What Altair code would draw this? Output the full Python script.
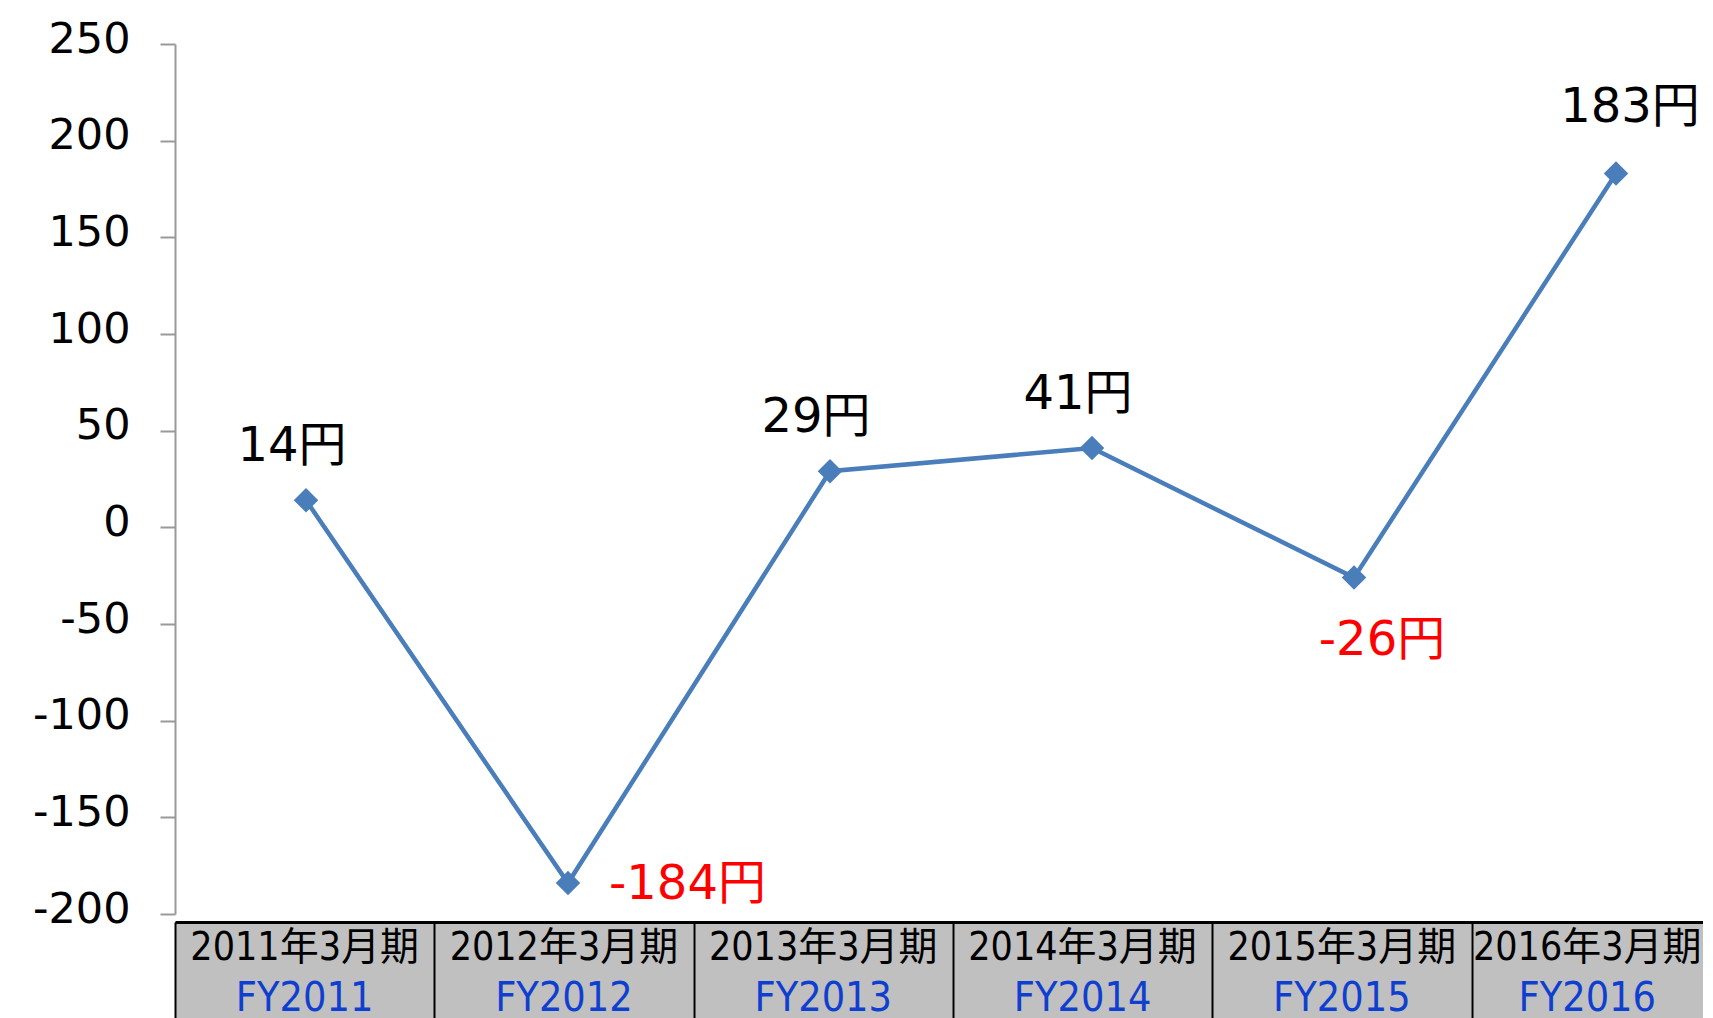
import altair as alt
import pandas as pd

# ---- data ----
periods_ja = ["2011年3月期", "2012年3月期", "2013年3月期", "2014年3月期", "2015年3月期", "2016年3月期"]
periods_en = ["FY2011", "FY2012", "FY2013", "FY2014", "FY2015", "FY2016"]
eps_values = [14, -184, 29, 41, -26, 183]
y_ticks = [-200, -150, -100, -50, 0, 50, 100, 150, 200, 250]

# label placement groups
above = ["FY2011", "FY2013", "FY2014"]
right_side = ["FY2012"]
below = ["FY2015"]
above_right = ["FY2016"]

# ---- layout constants ----
PLOT_W = 1528
TOP_H = 870
TAB_H = 100
X_TOP_MAX = PLOT_W / 262.0
X_TAB_MAX = PLOT_W / 259.3

LINE_COLOR = "#4a7ebb"
AXIS_GRAY = "#999999"
LABEL_FONT = "DejaVu Sans, Noto Sans CJK JP"
TABLE_FONT = "DejaVu Sans Condensed, Liberation Sans Narrow, Noto Sans CJK JP"

line_df = pd.DataFrame({"fy": periods_en, "value": eps_values, "idx": list(range(len(periods_en)))})
cells_df = pd.DataFrame({"idx": list(range(len(periods_en)))})
text_df = pd.DataFrame({
    "text": periods_ja + periods_en,
    "row": [0] * len(periods_ja) + [1] * len(periods_en),
    "idx": list(range(len(periods_ja))) + list(range(len(periods_en))),
})

# ---- top: line chart ----
base = (
    alt.Chart(line_df)
    .transform_calculate(pos="datum.idx + 0.5")
    .transform_calculate(label="datum.value + '円'")
)

x_top = alt.X("pos:Q", scale=alt.Scale(domain=[0, X_TOP_MAX], nice=False, zero=False), axis=None)
y_top = alt.Y(
    "value:Q",
    scale=alt.Scale(domain=[-200, 250], nice=False, zero=False),
    axis=alt.Axis(
        values=y_ticks, title=None, grid=False,
        labelExpr="'' + datum.value",
        labelFont="DejaVu Sans", labelFontSize=43, labelColor="black",
        labelPadding=30, labelOffset=-5, tickSize=15, tickColor=AXIS_GRAY, tickWidth=2,
        domainColor=AXIS_GRAY, domainWidth=2,
    ),
)

line = base.mark_line(color=LINE_COLOR, strokeWidth=4.5).encode(x=x_top, y=y_top)
pts = base.mark_point(shape="diamond", filled=True, size=600, color=LINE_COLOR, opacity=1).encode(x=x_top, y=y_top)

label_color = alt.condition("datum.value < 0", alt.value("#ff0000"), alt.value("black"))


def labels(names, **kw):
    return (
        base.transform_filter(alt.FieldOneOfPredicate(field="fy", oneOf=names))
        .mark_text(font=LABEL_FONT, fontSize=48, baseline="middle", **kw)
        .encode(x=x_top, y=y_top, text="label:N", color=label_color)
    )


t_above = labels(above, align="center", dx=-14, dy=-53)
t_right = labels(right_side, align="left", dx=41, dy=2)
t_below = labels(below, align="center", dx=28, dy=63)
t_above_right = labels(above_right, align="center", dx=14, dy=-66)

top = alt.layer(line, pts, t_above, t_right, t_below, t_above_right).properties(width=PLOT_W, height=TOP_H)

# ---- bottom: category table ----
x_scale_tab = alt.Scale(domain=[0, X_TAB_MAX], nice=False, zero=False, clamp=True)
x_axis_tab = alt.Axis(
    orient="top", values=[0, 1, 2, 3, 4, 5], labels=False, ticks=False, title=None,
    domain=True, domainColor="black", domainWidth=3,
    grid=True, gridColor="black", gridWidth=2, gridOpacity=1, zindex=1,
)

cells = (
    alt.Chart(cells_df)
    .transform_calculate(lo="datum.idx")
    .transform_calculate(hi=f"min(datum.idx + 1, {X_TAB_MAX})")
    .mark_rect(color="#c0c0c0")
    .encode(x=alt.X("lo:Q", scale=x_scale_tab, axis=x_axis_tab), x2="hi:Q")
)

y_tab = alt.Y("row:Q", scale=alt.Scale(domain=[-0.51, 1.451], reverse=True, nice=False, zero=False), axis=None)

text_base = (
    alt.Chart(text_df)
    .transform_calculate(hi=f"min(datum.idx + 1, {X_TAB_MAX})")
    .transform_calculate(mid="(datum.idx + datum.hi) / 2")
)

row_ja = (
    text_base.transform_filter("datum.row == 0")
    .mark_text(font=TABLE_FONT, fontSize=39, color="black", align="center", baseline="middle", clip=True)
    .encode(x=alt.X("mid:Q", scale=x_scale_tab, axis=x_axis_tab), y=y_tab, text="text:N")
)
row_en = (
    text_base.transform_filter("datum.row == 1")
    .mark_text(font=TABLE_FONT, fontSize=41, color="#0f3fd0", align="center", baseline="middle", clip=True)
    .encode(x=alt.X("mid:Q", scale=x_scale_tab, axis=x_axis_tab), y=y_tab, text="text:N")
)

bottom = alt.layer(cells, row_ja, row_en).properties(width=PLOT_W, height=TAB_H)

chart = (
    alt.vconcat(top, bottom, spacing=8, bounds="flush")
    .properties(padding={"left": 24, "top": 10, "right": 0, "bottom": 0})
    .configure_view(stroke=None)
)

chart.save("out.html", embed_options={"renderer": "svg", "actions": False})
